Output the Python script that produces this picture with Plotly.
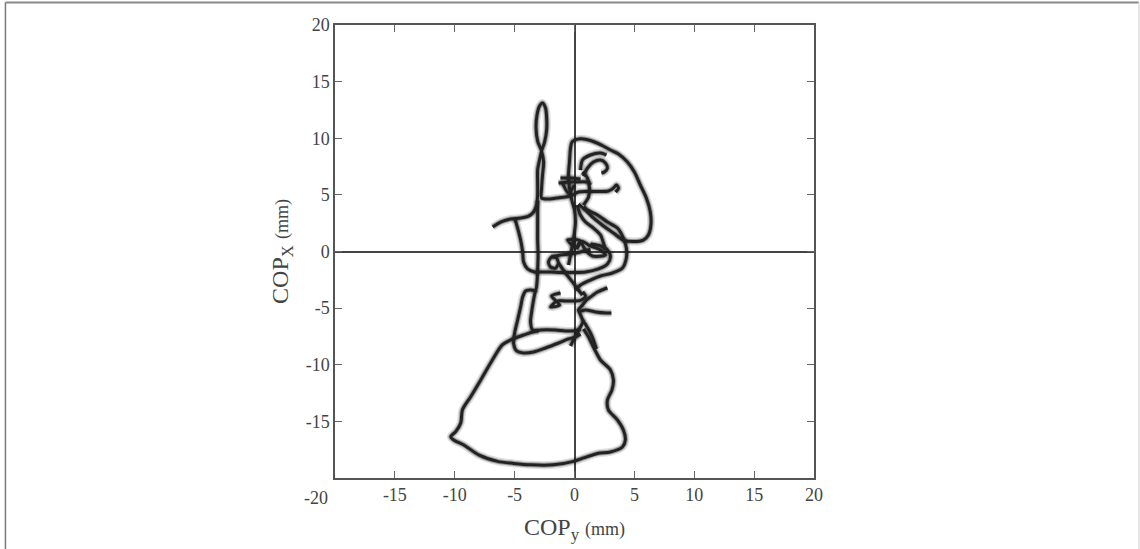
import plotly.graph_objects as go

# ---------------- data (COP trajectory, mm) ----------------
loop_x = [-6.83, -6.17, -5.33, -4.5, -3.83, -3.42, -3.17, -3.08, -3.08, -3.08, -2.92, -2.75, -2.5, -2.33, -2.33,
          -2.42, -2.67, -2.92, -3.13, -3.21, -3.08, -2.75, -2.58, -2.67, -2.75, -2.75, -2.25, -1.5, -0.75, -0.17,
          0.33, 1.0, 2.0, 2.83, 3.25, 3.5, 3.67, 3.42]
loop_y = [2.16, 2.60, 2.87, 2.96, 3.13, 3.49, 4.10, 4.99, 6.13, 7.19, 8.08, 8.87, 9.66, 10.72, 11.87,
          12.67, 13.11, 12.84, 12.05, 10.9, 9.75, 8.87, 7.9, 6.75, 5.6, 4.72, 4.63, 4.72, 4.81, 4.99,
          5.25, 5.3, 5.3, 5.34, 5.6, 5.87, 5.6, 5.25]

drop_x = [-5.0, -4.75, -4.5, -4.33, -4.25, -3.92, -3.33, -2.67, -2.0, -1.17, -0.17, 0.92, 2.0, 2.75, 3.0, 2.83, 2.17, 1.33]
drop_y = [2.96, 2.07, 1.01, -0.04, -0.93, -1.54, -1.81, -1.81, -1.81, -1.85, -1.85, -1.81, -1.54, -1.1, -0.49, 0.04, 0.49, 0.66]

spine_x = [-3.08, -3.08, -3.08, -3.08, -3.04, -3.08, -3.13, -3.25, -3.67, -4.08, -4.33, -4.5, -4.75, -5.0, -5.08,
           -4.83, -4.25, -3.42, -2.42, -1.33, -0.5, 0.08, 0.5]
spine_y = [4.5, 3.66, 2.34, 1.01, -0.31, -1.63, -2.69, -3.4, -3.4, -3.49, -4.02, -4.9, -6.05, -7.19, -8.16,
           -8.78, -8.96, -8.87, -8.52, -8.08, -7.72, -7.55, -7.28]

box_x = [-3.25, -3.42, -3.58, -3.67, -3.5, -3.0]
box_y = [-3.4, -4.28, -5.34, -6.22, -6.93, -7.0]

bell_x = [0.5, 0.0, -0.75, -1.58, -2.83, -4.25, -5.33, -6.03, -6.86, -7.83, -8.67, -9.36, -9.5, -9.92, -10.33,
          -10.08, -9.25, -8.0, -6.42, -5.08, -3.67, -1.75, -0.08, 0.75, 1.92, 3.0, 4.0, 4.25, 4.08, 3.58,
          2.83, 2.75, 3.13, 3.25, 3.0, 2.17, 1.58, 1.17, 0.75]
bell_y = [-6.84, -7.0, -7.02, -6.93, -6.93, -7.37, -7.81, -8.25, -9.58, -11.34, -12.82, -13.99, -15.14, -15.9, -16.35,
          -16.64, -17.08, -17.96, -18.53, -18.71, -18.84, -18.84, -18.53, -18.23, -17.83, -17.7, -17.26, -16.64, -15.76, -14.87,
          -13.99, -13.11, -12.22, -11.34, -10.46, -9.58, -8.43, -7.55, -6.84]

knot_x = [-0.33, 0.0, 0.42, 0.75, 1.0, 1.33, 1.58, 1.83]
knot_y = [-8.34, -7.63, -6.84, -6.22, -6.58, -7.19, -7.81, -8.61]

spike_up_x = [0.75, 0.5, 0.33, 0.67, 1.0, 1.33, 1.92, 2.5, 2.75]
spike_up_y = [-6.22, -5.6, -5.16, -4.72, -4.28, -4.02, -3.58, -3.31, -3.22]

spike_low_x = [0.33, 0.92, 1.75, 2.67, 3.08]
spike_low_y = [-5.34, -5.16, -5.34, -5.43, -5.43]

arrow_x = [-1.17, -1.92, -1.58, -2.0, -1.25, -1.5, -0.75, 0.08, 0.58, 0.92, 0.67]
arrow_y = [-3.66, -3.93, -4.37, -4.9, -4.72, -4.37, -4.37, -4.37, -4.28, -3.93, -3.58]

cross_x = [-1.33, -1.58, -2.0, -2.17, -1.92, -1.5, -1.33, -0.75, -0.17, 0.33, 0.67]
cross_y = [-1.02, -1.46, -1.37, -0.93, -0.49, -0.57, -1.02, -1.9, -2.69, -3.4, -3.84]

link_x = [-1.92, -1.17, -0.33, 0.5, 1.33]
link_y = [-0.49, -0.31, -0.22, -0.04, 0.2]

bowtie_x = [0.17, -0.58, 0.5, 0.17, 0.5, 1.33, 2.17, 2.58, 1.5, 0.92, 0.5]
bowtie_y = [0.22, 1.01, 0.93, 0.22, 0.93, 0.49, 0.13, -0.31, -0.4, 0.13, 0.93]

arc_a_x = [0.22, 0.5, 0.92, 1.58, 2.17, 2.42, 2.58]
arc_a_y = [4.1, 3.22, 2.6, 2.07, 1.46, 0.75, 0.13]

arc_b_x = [0.75, 1.08, 1.92, 2.75, 3.58, 4.08, 4.33, 4.33, 4.0, 3.17, 2.17, 1.33, 0.5, 0.08]
arc_b_y = [3.93, 3.66, 3.22, 2.6, 2.07, 1.19, 0.31, -0.57, -1.46, -1.9, -2.16, -2.52, -2.96, -3.4]

boot_x = [-0.5, -0.33, -0.17, 0.0, 0.08, 0.0, -0.21, -0.42, -0.5, -0.42, -0.33, -0.19, 0.5, 1.33, 2.25, 3.0, 3.67,
          4.42, 5.0, 5.5, 6.0, 6.33, 6.38, 6.17, 5.75, 4.92, 4.08, 3.25, 2.42, 1.58, 0.92, 0.33]
boot_y = [-1.19, -0.31, 0.57, 1.72, 2.6, 3.66, 4.46, 5.6, 6.75, 7.9, 9.14, 9.69, 9.95, 9.8, 9.4, 8.96, 8.61,
          7.9, 7.02, 5.87, 4.72, 3.49, 2.34, 1.46, 1.01, 0.88, 1.01, 1.63, 2.25, 2.96, 3.66, 4.19]

bar_a_x = [-1.33, -0.17, 1.08, 1.33]
bar_a_y = [6.05, 6.13, 6.13, 5.87]
bar_b_x = [-1.17, -0.33, 0.5]
bar_b_y = [6.49, 6.49, 6.4]
vee_x = [-1.0, -0.5, 0.0]
vee_y = [6.05, 5.16, 5.87]
paren_x = [0.67, 1.08, 1.25, 1.17, 0.75]
paren_y = [7.02, 6.49, 5.6, 4.81, 4.1]
hook_x = [0.75, 1.08, 1.58, 2.17, 2.58, 2.75, 2.5, 2.25]
hook_y = [6.66, 7.37, 7.9, 8.08, 7.81, 7.37, 7.02, 6.93]
hook_outer_x = [0.5, 0.67, 1.33, 2.17, 2.67]
hook_outer_y = [7.19, 8.08, 8.52, 8.7, 8.52]

axis_ticks = [-15, -10, -5, 0, 5, 10, 15, 20]
axis_tick_labels = ["-15", "-10", "-5", "0", "5", "10", "15", "20"]
corner_label = "-20"

segments = [
    (loop_x, loop_y), (drop_x, drop_y), (spine_x, spine_y), (box_x, box_y),
    (bell_x, bell_y), (knot_x, knot_y), (spike_up_x, spike_up_y), (spike_low_x, spike_low_y),
    (arrow_x, arrow_y), (cross_x, cross_y), (link_x, link_y), (bowtie_x, bowtie_y),
    (arc_a_x, arc_a_y), (arc_b_x, arc_b_y), (boot_x, boot_y),
    (bar_a_x, bar_a_y), (bar_b_x, bar_b_y), (vee_x, vee_y), (paren_x, paren_y),
    (hook_x, hook_y), (hook_outer_x, hook_outer_y),
]

X, Y = [], []
for sx, sy in segments:
    X += list(sx) + [None]
    Y += list(sy) + [None]

fig = go.Figure()
fig.add_trace(go.Scatter(x=X, y=Y, mode="lines", connectgaps=False,
                         line=dict(color="rgba(0,0,0,0.13)", width=8, shape="spline", smoothing=0.8),
                         hoverinfo="skip", showlegend=False))
fig.add_trace(go.Scatter(x=X, y=Y, mode="lines", connectgaps=False,
                         line=dict(color="rgba(0,0,0,0.3)", width=5, shape="spline", smoothing=0.8),
                         hoverinfo="skip", showlegend=False))
fig.add_trace(go.Scatter(x=X, y=Y, mode="lines", connectgaps=False,
                         line=dict(color="#222222", width=3, shape="spline", smoothing=0.8),
                         hoverinfo="skip", showlegend=False))

font_family = "Liberation Serif, Times New Roman, serif"
axis_common = dict(
    range=[-20, 20], tickmode="array", tickvals=axis_ticks, ticktext=axis_tick_labels,
    showline=True, linecolor="#555", linewidth=1.5, mirror="ticks",
    ticks="inside", ticklen=7, tickwidth=1, tickcolor="#666",
    showgrid=False, zeroline=True, zerolinecolor="#444", zerolinewidth=1.5,
    tickfont=dict(family=font_family, size=18, color="#444"),
    automargin=False, fixedrange=True,
)

fig.update_layout(
    width=1140, height=549,
    margin=dict(l=335, r=326, t=25, b=71),
    paper_bgcolor="white", plot_bgcolor="white",
    xaxis=dict(**axis_common,
               title=dict(text="COP<sub>y</sub> <span style='font-size:18px'>(mm)</span>",
                          font=dict(family=font_family, size=24, color="#444"), standoff=14)),
    yaxis=dict(**axis_common,
               title=dict(text="COP<sub>X</sub> <span style='font-size:18px'>(mm)</span>",
                          font=dict(family=font_family, size=24, color="#444"), standoff=10)),
    annotations=[dict(x=-20, y=-20, xref="x", yref="y", text=corner_label, showarrow=False,
                      xanchor="right", yanchor="top", xshift=-5, yshift=-8,
                      font=dict(family=font_family, size=18, color="#444"))],
    shapes=[
        dict(type="line", xref="paper", yref="paper", x0=-0.688, x1=1.678, y0=1.0497, y1=1.0497,
             line=dict(color="#8a8a8a", width=2)),
        dict(type="line", xref="paper", yref="paper", x0=-0.688, x1=-0.688, y0=1.0497, y1=-0.25,
             line=dict(color="#7a7a7a", width=1.5)),
        dict(type="line", xref="paper", yref="paper", x0=1.6785, x1=1.6785, y0=1.0497, y1=-0.25,
             line=dict(color="#dddddd", width=1.5)),
    ],
)

fig.write_html("out.html")
